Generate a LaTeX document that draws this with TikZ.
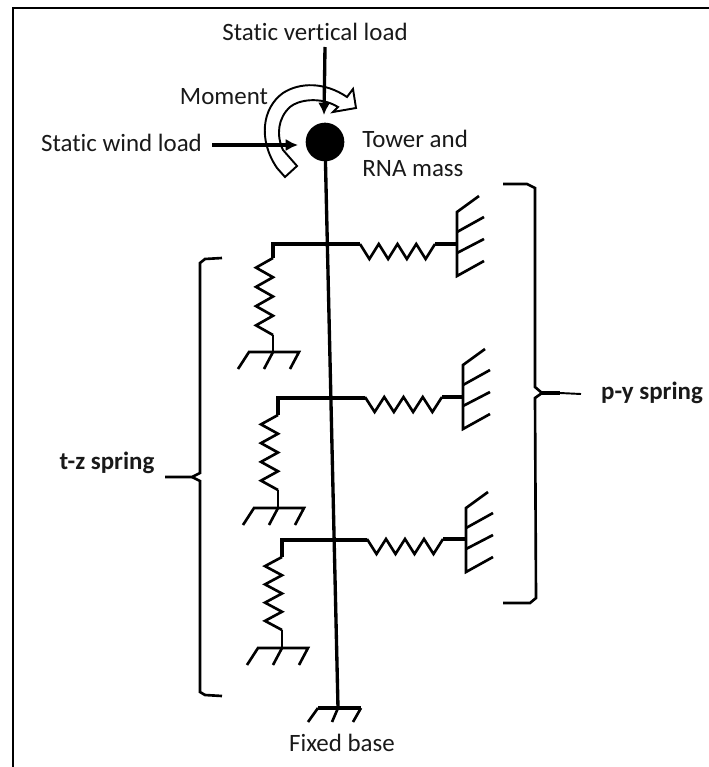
\documentclass[tikz,border=0pt]{standalone}
\usepackage{xcolor}
\usepackage{fontspec}
\setmainfont{Carlito}[Ligatures=NoCommon]
\usetikzlibrary{arrows.meta}
\tikzset{
	lbl/.style={inner sep=0pt, font=\fontsize{14.2}{17}\selectfont, text=black!90, align=left},
	lblb/.style={lbl, font=\fontsize{14.2}{17}\selectfont\bfseries},
	member/.style={line width=1.9pt, line join=miter},
	thin member/.style={line width=1.5pt, line join=miter},
	load/.style={line width=1.9pt, -{Latex[length=7pt,width=7pt]}},
}
% ground with three hatches going down left, #1 = stem x, #2 = top y
\newcommand{\groundh}[2]{
	\draw[thin member] (#1-35,#2+17) -- (#1-24,#2) -- (#1+26,#2) -- (#1+17,#2+17);
	\draw[thin member] (#1,#2) -- (#1-9,#2+17);
}
% wall with four hatches going up right, #1 = x, #2 = foot y
\newcommand{\wallv}[2]{
	\draw[thin member] (#1+27,#2-15) -- (#1,#2) -- (#1,#2-64) -- (#1+22,#2-80);
	\draw[thin member] (#1,#2-44) -- (#1+27,#2-59);
	\draw[thin member] (#1,#2-23) -- (#1+27,#2-37);
}
% zigzag along x from #1 to #2 at height #3
\newcommand{\springh}[3]{
	\draw[thin member] (#1,#3)
	\foreach \k in {1,3,5,7} {-- ({#1+\k*(#2-#1)/8},#3+15) -- ({#1+(\k+1)*(#2-#1)/8},#3)};
}
% zigzag along y at x #1 from #2 to #3
\newcommand{\springv}[3]{
	\draw[thin member] (#1,#2)
	\foreach \k in {1,3,5,7} {-- (#1-17,{#2+\k*(#3-#2)/8}) -- (#1,{#2+(\k+1)*(#3-#2)/8})};
}
\begin{document}
\begin{tikzpicture}[x=0.02cm,y=-0.02cm]
	\useasboundingbox (0,0) rectangle (709,767);
	
	%frame
	\draw[thin member] (13,767) -- (13,8) -- (709,8);
	
	%labels
	\node[lbl] (vertlabel) at (315,32) {Static vertical load};
	\node[lbl] (momentlabel) at (224,97) {Moment};
	\node[lbl] (windlabel) at (121.5,143) {Static wind load};
	\node[lbl, anchor=west] (masslabel) at (362,139) {Tower and};
	\node[lbl, anchor=west] (masslabel2) at (362,169) {RNA mass};
	\node[lblb] (tzlabel) at (107,463) {t-z spring};
	\node[lblb] (pylabel) at (652,393) {p-y spring};
	\node[lbl] (baselabel) at (342,743) {Fixed base};
	
	%moment arrow
	\draw[line width=1.1pt, line join=miter] (285,177) -- (277,168)
		.. controls (258,140) and (262,108) .. (283,93)
		.. controls (300,82) and (325,82) .. (347,97)
		-- (353,89) -- (356,108) -- (333,112) -- (338,107)
		.. controls (320,96) and (298,100) .. (290,107)
		.. controls (278,118) and (276,135) .. (283,150)
		-- (297,166) -- cycle;
	
	%mass
	\node[circle, fill=black, inner sep=0pt, minimum size=22pt] (mass) at (325,142) {};
	\coordinate (verttop) at (325,47);
	\coordinate (verttip) at (324,115);
	\coordinate (windstart) at (212,145);
	\coordinate (windtip) at (298,145);
	\draw[load] (verttop) -- (verttip);
	\draw[load] (windstart) -- (windtip);
	
	%tower
	\coordinate (base) at (338,708);
	\draw[member] (mass.center) -- (base);
	\draw[member] (318,708) -- (361,708);
	\draw[thin member] (308,722) -- (318,708);
	\draw[thin member] (332,722) -- (338,708);
	\draw[thin member] (353,722) -- (361,708);
	
	%top storey
	\draw[member] (360,244) -- (273,244) -- (273,258);
	\springh{360}{435}{244}
	\draw[member] (435,244) -- (457,244);
	\wallv{457}{276}
	\springv{273}{258}{335}
	\draw[thin member] (273,335) -- (273,352);
	\groundh{273}{352}
	
	%middle storey
	\draw[member] (365,398) -- (278,398) -- (278,415);
	\springh{365}{442}{397}
	\draw[member] (442,397) -- (463,397);
	\wallv{463}{429}
	\springv{278}{415}{490}
	\draw[thin member] (278,490) -- (278,508);
	\groundh{278}{508}
	
	%bottom storey
	\draw[member] (367,540) -- (282,540) -- (282,557);
	\springh{367}{443}{539}
	\draw[member] (443,539) -- (466,539);
	\wallv{466}{572}
	\springv{282}{557}{630}
	\draw[thin member] (282,630) -- (282,648);
	\groundh{282}{648}
	
	%braces
	\draw[thin member] (222,258) -- (205,259) -- (200,263) -- (200,473) -- (192,477) -- (165,477);
	\draw[thin member] (192,477) -- (200,481) -- (200,692) -- (205,695) -- (222,696);
	\draw[thin member] (503,184) -- (527,184) -- (535,188) -- (535,387) -- (542,393);
	\draw[line width=2.4pt] (542,393) -- (560,393);
	\draw[line width=1.1pt] (560,393) -- (581,394);
	\draw[thin member] (542,393) -- (535,398) -- (536,598) -- (530,603) -- (503,603);
\end{tikzpicture}
\end{document}
